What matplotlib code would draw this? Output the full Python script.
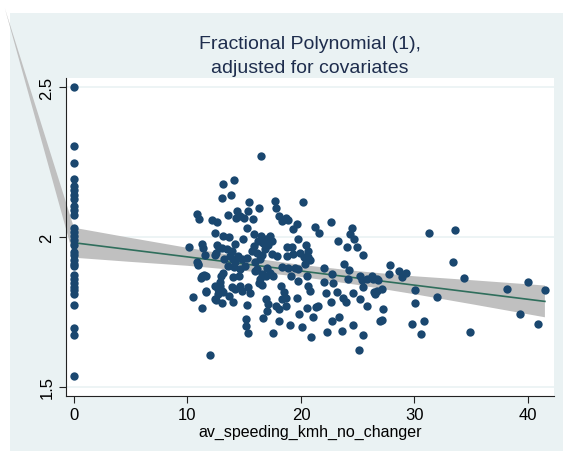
import matplotlib
matplotlib.use("Agg")
import matplotlib.pyplot as plt
from matplotlib.patches import Rectangle
import numpy as np

plt.rcParams['font.family'] = ['Liberation Sans', 'DejaVu Sans']

# observations at x = 0
zero_y = [2.5, 2.305, 2.247, 2.193, 2.171, 2.156, 2.139, 2.128, 2.104, 2.089, 2.075,
          2.030, 2.017, 2.004, 1.989, 1.974, 1.950, 1.939, 1.924, 1.911, 1.903,
          1.874, 1.861, 1.847, 1.833, 1.822, 1.810, 1.774, 1.697, 1.674, 1.537]

# main cloud (x, y)
cloud_x = [16.45, 13.10, 14.13, 13.04, 13.84, 15.39, 17.71, 17.77, 20.15, 16.34,
           10.81, 11.04, 13.60, 14.39, 14.63, 14.98, 15.37, 15.81, 14.28, 18.07,
           18.31, 18.69, 18.90, 19.63, 19.34, 22.63, 21.25, 21.63, 24.48, 24.33,
           24.69, 24.92, 25.45, 12.13, 12.57, 15.28, 12.43, 13.10, 13.66, 15.86,
           16.48, 16.92, 17.28, 17.42, 17.12, 16.69, 16.25, 15.86, 14.86, 14.19,
           19.77, 23.29, 24.03, 10.16, 11.25, 12.57, 13.01, 13.45, 13.89, 12.51,
           13.75, 14.04, 14.48, 14.77, 14.19, 15.22, 15.66, 16.10, 16.54, 16.39,
           16.83, 17.42, 17.86, 18.80, 19.18, 18.74, 19.33, 19.92, 20.44, 20.59,
           20.65, 20.79, 20.26, 20.35, 19.47, 18.88, 18.30, 10.90, 11.25, 11.63,
           11.16, 13.16, 15.07, 15.95, 15.95, 16.98, 17.28, 16.92, 16.54, 16.39,
           16.54, 18.21, 19.12, 19.77, 19.77, 20.50, 20.65, 20.79, 22.06, 22.06,
           22.70, 22.85, 22.20, 23.14, 23.79, 24.26, 24.17, 24.55, 23.73, 23.94,
           25.20, 25.35, 25.43, 25.79, 26.23, 26.67, 26.46, 26.96, 25.79, 25.20,
           10.52, 11.63, 11.25, 12.42, 12.72, 12.87, 13.01, 13.01, 13.69, 14.04,
           13.89, 14.19, 14.63, 14.77, 15.36, 15.51, 15.22, 15.17, 15.17, 15.36,
           16.62, 16.92, 17.12, 17.04, 17.80, 18.09, 18.30, 18.68, 18.06, 17.56,
           19.03, 19.62, 19.86, 20.06, 20.56, 21.03, 21.32, 21.53, 22.63, 22.70,
           23.38, 22.26, 23.59, 24.55, 20.85, 25.49, 25.14, 11.99, 14.04, 14.57,
           12.93, 12.42, 13.60, 14.10, 14.63, 13.22, 18.50, 18.68, 17.56, 16.33,
           16.15, 11.54, 12.42, 10.87, 10.96, 12.86, 12.72, 13.10, 11.63, 12.51,
           11.45, 12.80, 11.40,
           31.25, 33.60, 27.84, 27.78, 28.66, 28.87, 29.25, 33.36, 34.39, 26.37,
           26.81, 27.11, 26.52, 26.67, 30.05, 30.05, 32.01, 27.20, 27.11, 29.81,
           30.84, 30.54, 34.89, 38.12, 40.00, 41.47, 39.27, 40.91]
cloud_y = [2.270, 2.178, 2.189, 2.132, 2.142, 2.118, 2.122, 2.097, 2.116, 2.096,
           2.077, 2.060, 2.074, 2.087, 2.069, 2.063, 2.088, 2.060, 2.063, 2.069,
           2.055, 2.063, 2.057, 2.043, 2.027, 2.049, 2.032, 2.013, 2.029, 2.010,
           1.993, 1.968, 1.940, 2.057, 2.049, 2.029, 2.013, 2.004, 1.999, 2.010,
           2.004, 1.993, 2.004, 1.987, 1.973, 1.980, 1.987, 1.971, 1.993, 1.976,
           1.993, 1.987, 1.968, 1.967, 1.976, 1.973, 1.965, 1.960, 1.954, 1.946,
           1.937, 1.928, 1.937, 1.926, 1.915, 1.931, 1.954, 1.946, 1.939, 1.926,
           1.960, 1.943, 1.937, 1.968, 1.968, 1.937, 1.943, 1.948, 1.973, 1.954,
           1.935, 1.924, 1.932, 1.909, 1.898, 1.895, 1.901, 1.909, 1.870, 1.870,
           1.864, 1.881, 1.904, 1.887, 1.915, 1.898, 1.881, 1.870, 1.875, 1.859,
           1.840, 1.836, 1.870, 1.892, 1.853, 1.870, 1.836, 1.819, 1.898, 1.850,
           1.876, 1.848, 1.812, 1.816, 1.909, 1.891, 1.859, 1.813, 1.795, 1.784,
           1.870, 1.855, 1.832, 1.859, 1.869, 1.860, 1.816, 1.721, 1.769, 1.793,
           1.801, 1.817, 1.762, 1.793, 1.809, 1.836, 1.820, 1.780, 1.804, 1.782,
           1.832, 1.827, 1.836, 1.820, 1.832, 1.813, 1.773, 1.726, 1.704, 1.679,
           1.729, 1.793, 1.777, 1.754, 1.771, 1.760, 1.793, 1.796, 1.721, 1.678,
           1.706, 1.796, 1.743, 1.700, 1.762, 1.734, 1.767, 1.771, 1.782, 1.721,
           1.734, 1.684, 1.687, 1.706, 1.667, 1.673, 1.624, 1.607, 1.866, 1.871,
           1.871, 1.836, 1.903, 1.899, 1.894, 1.927, 1.816, 1.771, 1.870, 1.847,
           1.894, 1.941, 1.941, 1.916, 1.905, 1.849, 1.827, 1.816, 1.819, 1.791,
           1.872, 1.965, 1.964,
           2.012, 2.025, 1.905, 1.877, 1.885, 1.868, 1.880, 1.917, 1.863, 1.860,
           1.855, 1.827, 1.810, 1.821, 1.823, 1.779, 1.799, 1.760, 1.723, 1.710,
           1.721, 1.675, 1.682, 1.826, 1.851, 1.823, 1.743, 1.711]

# fitted line and confidence band
fit_x = [0, 41.5]
fit_y = [1.981, 1.785]
ci_x = [0, 5, 10, 15, 20, 25, 30, 35, 41.5]
ci_hi = [2.031, 1.997, 1.964, 1.933, 1.907, 1.886, 1.869, 1.856, 1.838]
ci_lo = [1.931, 1.917, 1.904, 1.887, 1.867, 1.840, 1.809, 1.776, 1.732]
# stray vertex of the band polygon (drawn outside the plot region)
tip_x, tip_y = -6.1, 2.765

navy = '#1a476f'
bg = '#eaf2f3'

fig = plt.figure(figsize=(5.63, 4.52), dpi=100)
fig.patch.set_facecolor('white')
fig.patches.append(Rectangle((10 / 563, 0), 1 - 10 / 563, 1 - 14 / 452,
                             transform=fig.transFigure, facecolor=bg,
                             edgecolor='none', zorder=-10))

ax = fig.add_axes([0.1167, 0.1217, 0.8673, 0.7046])
ax.set_facecolor('white')

px = list(ci_x) + list(ci_x[::-1]) + [tip_x]
py = list(ci_hi) + list(ci_lo[::-1]) + [tip_y]
ax.fill(px, py, color='#c0c0c0', lw=0, zorder=1, clip_on=False)
ax.plot(fit_x, fit_y, color='#2f6e5c', lw=1.2, zorder=2)
ax.scatter([0] * len(zero_y), zero_y, s=36, color=navy, lw=0, zorder=3)
ax.scatter(cloud_x, cloud_y, s=36, color=navy, lw=0, zorder=3)

ax.set_xlim(-0.73, 42.3)
ax.set_ylim(1.469, 2.533)
ax.set_xticks([0, 10, 20, 30, 40])
ax.set_yticks([1.5, 2, 2.5])
ax.set_yticklabels(['1.5', '2', '2.5'], rotation=90, va='center')
for y in [1.5, 2, 2.5]:
    ax.axhline(y, color=bg, lw=1.2, zorder=0.5)

for s in ['top', 'right']:
    ax.spines[s].set_visible(False)
for s in ['left', 'bottom']:
    ax.spines[s].set_linewidth(0.8)
    ax.spines[s].set_color('#222222')
ax.tick_params(length=5, width=0.8, labelsize=12, color='#222222', pad=3)

ax.set_xlabel('av_speeding_kmh_no_changer', fontsize=11.5, labelpad=1)
ax.set_title('Fractional Polynomial (1),\nadjusted for covariates',
             fontsize=14, color='#1e2d4d', linespacing=1.5, pad=4)

fig.savefig('out.png', dpi=100)
